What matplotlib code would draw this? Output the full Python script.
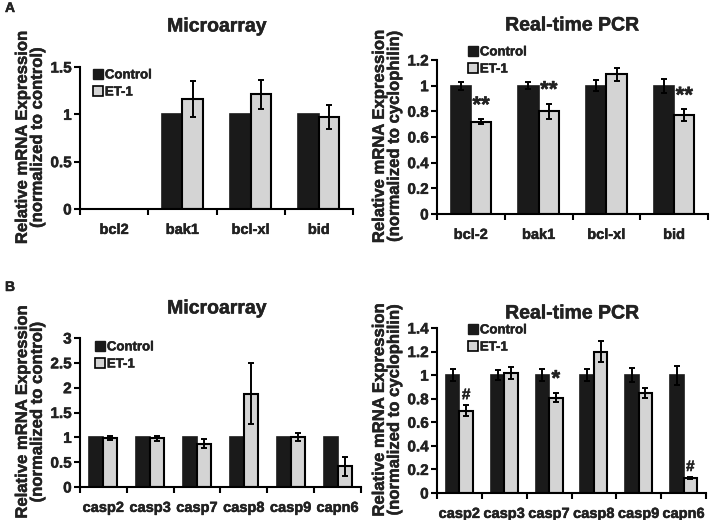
import numpy as np
import matplotlib
matplotlib.use("Agg")
import matplotlib.pyplot as plt
from matplotlib.patches import Patch
import matplotlib.patheffects as pe

plt.rcParams['font.family'] = ['Liberation Sans', 'DejaVu Sans']
plt.rcParams['font.weight'] = 'bold'

# ---------------- data ----------------
a_genes_micro = ["bcl2", "bak1", "bcl-xl", "bid"]
a_micro_ctrl = [np.nan, 1.0, 1.0, 1.0]
a_micro_et1 = [np.nan, 1.16, 1.21, 0.97]
a_micro_et1_err = [np.nan, 0.19, 0.15, 0.13]

a_genes_pcr = ["bcl-2", "bak1", "bcl-xl", "bid"]
a_pcr_ctrl = [1.0, 1.0, 1.0, 1.0]
a_pcr_ctrl_err = [0.03, 0.025, 0.045, 0.055]
a_pcr_et1 = [0.72, 0.80, 1.09, 0.77]
a_pcr_et1_err = [0.02, 0.06, 0.05, 0.045]
a_pcr_marks = ["**", "**", "", "**"]

b_genes = ["casp2", "casp3", "casp7", "casp8", "casp9", "capn6"]
b_micro_ctrl = [1.0, 1.0, 1.0, 1.0, 1.0, 1.0]
b_micro_et1 = [0.98, 0.98, 0.87, 1.88, 1.0, 0.42]
b_micro_et1_err = [0.04, 0.05, 0.09, 0.62, 0.08, 0.19]

b_pcr_ctrl = [1.0, 1.0, 1.0, 1.0, 1.0, 1.0]
b_pcr_ctrl_err = [0.048, 0.04, 0.05, 0.05, 0.06, 0.08]
b_pcr_et1 = [0.70, 1.02, 0.81, 1.20, 0.85, 0.13]
b_pcr_et1_err = [0.05, 0.05, 0.04, 0.09, 0.045, 0.01]
b_pcr_marks = ["#", "", "*", "", "", "#"]

series_names = ["Control", "ET-1"]
ctrl_color = "#1a1a1a"
et1_color = "#d4d4d4"
text_color = "#222222"

W, H = 710, 520
fig = plt.figure(figsize=(W / 100, H / 100), dpi=100)


def axrect(l, r, t, b):
    return [l / W, 1 - b / H, (r - l) / W, (b - t) / H]


def panel(rect, genes, ctrl, et1, et1_err, ctrl_err, ymax, ystep, yfmt,
          title, title_xy, leg_xy, ylabel2, marks=None):
    ax = fig.add_axes(rect)
    x = np.arange(len(genes))
    w = 0.3
    ax.bar(x - w / 2, ctrl, width=w, color=ctrl_color, edgecolor=ctrl_color,
           linewidth=1.2, zorder=2)
    ax.bar(x + w / 2, et1, width=w, color=et1_color, edgecolor="black",
           linewidth=1.5, zorder=2)
    if ctrl_err is not None:
        ax.errorbar(x - w / 2, ctrl, yerr=ctrl_err, fmt="none", ecolor="black",
                    elinewidth=1.4, capsize=2.5, capthick=1.4, zorder=3)
    ax.errorbar(x + w / 2, et1, yerr=et1_err, fmt="none", ecolor="black",
                elinewidth=1.4, capsize=2.5, capthick=1.4, zorder=3)
    if marks is not None:
        for xi, v, e, m in zip(x, et1, et1_err, marks):
            if m:
                fs = 16 if "*" in m else 11
                ax.text(xi + w / 2, v + e + ymax * 0.015, m, ha="center",
                        va="bottom", fontsize=fs, fontweight="bold")
    ax.set_xlim(-0.5, len(genes) - 0.5)
    ax.set_ylim(0, ymax)
    ticks = np.arange(0, ymax + 1e-9, ystep)
    ax.set_yticks(ticks)
    ax.set_yticklabels([yfmt(v) for v in ticks], fontsize=11, fontweight="bold")
    ax.set_xticks(np.arange(len(genes) + 1) - 0.5)
    ax.set_xticklabels([])
    ax.set_xticks(x, minor=True)
    ax.set_xticklabels(genes, minor=True, fontsize=10.5, fontweight="bold")
    ax.tick_params(axis="x", which="minor", length=0, pad=10)
    ax.tick_params(axis="x", which="major", length=4, width=1.5, direction="out")
    ax.tick_params(axis="y", length=4, width=1.5, direction="out", pad=2)
    for s in ["top", "right"]:
        ax.spines[s].set_visible(False)
    for s in ["left", "bottom"]:
        ax.spines[s].set_linewidth(1.5)
    ax.set_ylabel("Relative mRNA Expression\n" + ylabel2, fontsize=12,
                  fontweight="bold", linespacing=1.0, labelpad=4)
    fig.text(title_xy[0] / W, 1 - title_xy[1] / H, title, ha="center",
             va="center", fontsize=14, fontweight="bold")
    handles = [Patch(facecolor=ctrl_color, edgecolor=ctrl_color),
               Patch(facecolor=et1_color, edgecolor="black", linewidth=1.2)]
    ax.legend(handles, series_names, loc="upper left",
              bbox_to_anchor=(leg_xy[0] / W, 1 - leg_xy[1] / H),
              bbox_transform=fig.transFigure, frameon=False,
              handlelength=0.75, handleheight=0.75, handletextpad=0.15,
              labelspacing=0.35, borderpad=0, borderaxespad=0,
              prop={"size": 9.5, "weight": "bold"})
    return ax


def fmt_gen(v):
    s = f"{v:.1f}"
    return s[:-2] if s.endswith(".0") else s


ax1 = panel(axrect(80, 353, 67, 209), a_genes_micro, a_micro_ctrl, a_micro_et1,
            a_micro_et1_err, None, 1.5, 0.5, fmt_gen, "Microarray", (217, 27),
            (93, 69), "(normalized to control)")
ax2 = panel(axrect(437, 708, 60, 214), a_genes_pcr, a_pcr_ctrl, a_pcr_et1,
            a_pcr_et1_err, a_pcr_ctrl_err, 1.2, 0.2, fmt_gen, "Real-time PCR",
            (572, 26), (468, 46), "(normalized to cyclophilin)", marks=a_pcr_marks)
ax3 = panel(axrect(80, 361, 338, 487), b_genes, b_micro_ctrl, b_micro_et1,
            b_micro_et1_err, None, 3.0, 0.5, fmt_gen, "Microarray", (217, 309),
            (95, 341), "(normalized to control)")
ax4 = panel(axrect(437, 706, 328, 493), b_genes, b_pcr_ctrl, b_pcr_et1,
            b_pcr_et1_err, b_pcr_ctrl_err, 1.4, 0.2, fmt_gen, "Real-time PCR",
            (572, 314), (468, 324), "(normalized to cyclophilin)", marks=b_pcr_marks)

fig.text(5 / W, 1 - 8 / H, "A", fontsize=10, fontweight="bold", va="center")
fig.text(5 / W, 1 - 287 / H, "B", fontsize=10, fontweight="bold", va="center")

# slightly heavier text strokes, like the reference
for t in fig.findobj(matplotlib.text.Text):
    t.set_color(text_color)
    t.set_path_effects([pe.withStroke(linewidth=0.35, foreground=text_color)])

fig.savefig("out.png", dpi=100)
